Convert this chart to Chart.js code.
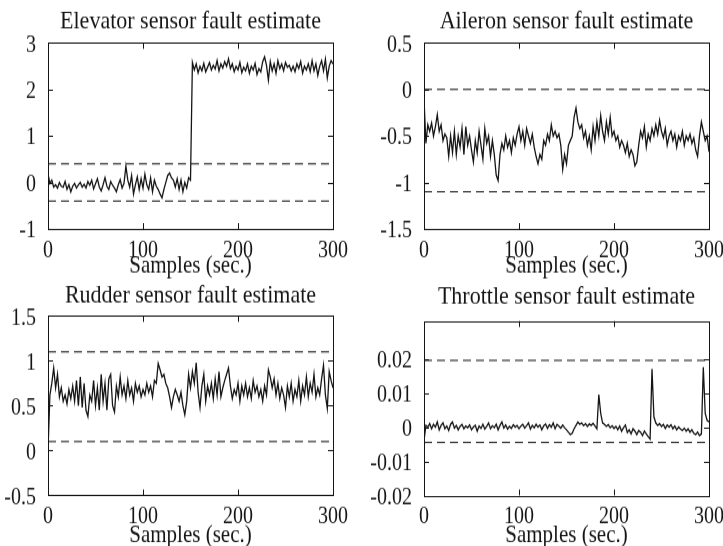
<!DOCTYPE html>
<html>
<head>
<meta charset="utf-8">
<script src="https://cdn.jsdelivr.net/npm/chart.js@4.4.0/dist/chart.umd.min.js"></script>
<style>
  html, body { margin: 0; padding: 0; background: #fff; overflow: hidden; }
  body { width: 723px; height: 546px; position: relative; }
  /* the source figure is stretched vertically, so each panel is drawn short and scaled up */
  .panel { position: absolute; transform: scaleY(1.18); transform-origin: 0 0; }
</style>
</head>
<body>
<div class="panel" style="left:0;top:0;width:362px;height:238px"><canvas id="elevatorChart"></canvas></div>
<div class="panel" style="left:362px;top:0;width:380px;height:238px"><canvas id="aileronChart"></canvas></div>
<div class="panel" style="left:0;top:273px;width:362px;height:235px"><canvas id="rudderChart"></canvas></div>
<div class="panel" style="left:362px;top:273px;width:380px;height:235px"><canvas id="throttleChart"></canvas></div>
<script>
// sample index (sec.), every 2nd sample
const samples = Array.from({ length: 151 }, (_, i) => i * 2);
const xTicks = [0, 100, 200, 300];

const elevatorFault = [
  0.18, -0.02, 0.05, -0.1, -0.05, -0.12, 0.0, -0.08, -0.1, 0.02,
  -0.15, -0.05, -0.2, -0.08, -0.02, -0.12, -0.05, 0.0, -0.1, -0.04,
  -0.12, 0.02, -0.06, 0.05, -0.14, -0.03, 0.08, -0.1, -0.18, -0.05,
  0.1, -0.08, -0.15, 0.02, -0.06, -0.12, -0.2, -0.05, 0.06, -0.12,
  -0.02, 0.35, 0.05, -0.1, 0.15, -0.25, -0.05, 0.12, -0.15, 0.08,
  -0.12, 0.18, -0.05, -0.15, 0.1, -0.2, 0.05, -0.08, -0.15, -0.25,
  -0.33, -0.15, 0.0, 0.15, 0.2, 0.1, 0.05, -0.1, 0.08, -0.15,
  0.05, -0.2, 0.0, -0.12, 0.1, 0.05,
  2.58, 2.42, 2.55, 2.36, 2.5, 2.4, 2.56, 2.38, 2.48, 2.58,
  2.42, 2.52, 2.44, 2.62, 2.4, 2.55, 2.46, 2.6, 2.5, 2.66,
  2.45, 2.55, 2.38, 2.5, 2.42, 2.58, 2.36, 2.48, 2.4, 2.55,
  2.35, 2.5, 2.42, 2.56, 2.32, 2.45, 2.38, 2.6, 2.7, 2.52,
  2.2, 2.6, 2.4, 2.55, 2.35, 2.62, 2.45, 2.55, 2.4, 2.58,
  2.48, 2.52, 2.4, 2.5, 2.38, 2.55, 2.45, 2.6, 2.35, 2.5,
  2.42, 2.55, 2.38, 2.62, 2.4, 2.55, 2.3, 2.5, 2.62, 2.4,
  2.65, 2.25, 2.5, 2.62, 2.55
];
const aileronFault = [
  -0.1, -0.58, -0.38, -0.45, -0.36, -0.5, -0.4, -0.27, -0.45, -0.38,
  -0.55, -0.48, -0.52, -0.72, -0.5, -0.68, -0.45, -0.7, -0.5, -0.62,
  -0.42, -0.7, -0.4, -0.6, -0.5, -0.65, -0.78, -0.55, -0.68, -0.45,
  -0.6, -0.75, -0.42, -0.58, -0.5, -0.72, -0.55, -0.7, -0.92, -0.98,
  -0.7, -0.58, -0.65, -0.5, -0.62, -0.55, -0.68, -0.52, -0.6, -0.48,
  -0.4, -0.55, -0.45, -0.6, -0.42, -0.5, -0.58, -0.48, -0.62, -0.72,
  -0.8, -0.7, -0.75, -0.55, -0.6, -0.48, -0.55, -0.38, -0.5, -0.45,
  -0.52, -0.48, -0.6, -0.86, -0.7, -0.8, -0.6, -0.55, -0.5, -0.3,
  -0.2, -0.35, -0.42, -0.38, -0.52, -0.45, -0.6, -0.5, -0.65, -0.4,
  -0.55, -0.35, -0.5, -0.28, -0.45, -0.55, -0.35, -0.48, -0.3, -0.5,
  -0.45, -0.55, -0.5, -0.62, -0.55, -0.6, -0.68, -0.58, -0.72, -0.65,
  -0.7, -0.82, -0.78, -0.6, -0.45, -0.52, -0.4, -0.62, -0.48, -0.55,
  -0.42, -0.5, -0.38, -0.48, -0.33, -0.45, -0.52, -0.42, -0.6, -0.5,
  -0.45, -0.55, -0.48, -0.62, -0.5, -0.55, -0.45, -0.6, -0.5, -0.55,
  -0.48, -0.58, -0.52, -0.65, -0.72, -0.5, -0.35, -0.45, -0.55, -0.5,
  -0.67
];
const rudderFault = [
  0.0, 0.62, 0.75, 0.92, 0.7, 0.85, 0.6, 0.7, 0.55, 0.62,
  0.52, 0.68, 0.58, 0.72, 0.55, 0.78, 0.5, 0.82, 0.48, 0.75,
  0.45, 0.38, 0.62, 0.55, 0.78, 0.5, 0.7, 0.45, 0.85, 0.55,
  0.75, 0.45, 0.8, 0.85, 0.5, 0.43, 0.72, 0.6, 0.82, 0.62,
  0.72, 0.58, 0.78, 0.62, 0.7, 0.55, 0.75, 0.65, 0.72, 0.6,
  0.68, 0.62, 0.75, 0.65, 0.72, 0.6, 0.78, 0.75, 0.97, 0.9,
  0.82, 0.85, 0.75, 0.7, 0.6, 0.48, 0.6, 0.68, 0.62, 0.55,
  0.65, 0.5, 0.4, 0.55, 0.85, 0.7, 0.88, 0.75, 0.98, 0.65,
  0.48, 0.72, 0.85, 0.55, 0.72, 0.62, 0.75, 0.58, 0.8, 0.62,
  0.88, 0.6, 0.7, 0.78, 0.85, 0.92, 0.72, 0.58, 0.68, 0.62,
  0.75, 0.55, 0.72, 0.62, 0.75, 0.6, 0.7, 0.58, 0.78, 0.65,
  0.72, 0.6, 0.68, 0.55, 0.72, 0.62, 0.9, 0.82, 0.7, 0.8,
  0.62, 0.75, 0.58, 0.7, 0.62, 0.48, 0.72, 0.6, 0.75, 0.55,
  0.68, 0.6, 0.78, 0.55, 0.72, 0.62, 0.82, 0.6, 0.75, 0.65,
  0.85, 0.6, 0.7, 0.62, 0.8, 0.95, 0.62, 0.47, 0.88, 0.78,
  0.7
];
const throttleFault = [
  -0.004, 0.0005, 0.0, 0.001, -0.0005, 0.0008, 0.0, 0.0015, -0.0008, 0.0005,
  0.0012, -0.0005, 0.0003, -0.001, 0.0008, 0.0015, -0.0003, 0.0005, -0.0008, 0.0002,
  0.0008, -0.0005, 0.0003, -0.0002, 0.0006, -0.0008, 0.0, 0.0005, -0.0012, 0.0003,
  -0.0004, 0.0008, -0.0006, 0.0002, 0.0012, -0.0005, 0.0004, -0.0002, 0.0008, -0.0008,
  0.0005, 0.0015, -0.0003, 0.0006, -0.0006, 0.0002, -0.0004, 0.0007, 0.0, 0.0005,
  -0.0005, 0.0003, 0.0008, -0.0003, 0.0004, 0.0012, -0.0006, 0.0005, -0.0002, 0.0008,
  0.0, 0.0006, -0.0008, 0.0004, 0.0009, -0.0004, 0.0007, 0.0, 0.0012, -0.0005,
  0.0008, 0.0003, -0.0003, 0.0006, -0.0002, -0.0008, -0.0015, -0.0022, -0.0018, -0.0005,
  0.0005, 0.0015, 0.0008, 0.0012, 0.0004, 0.001, 0.0002, 0.0009, 0.0005, 0.0011,
  0.0003, -0.0005, 0.0095, 0.004, 0.0012, 0.0008, 0.0002, 0.0007, -0.0002, 0.0004,
  -0.0004, 0.0002, -0.0008, 0.0003, -0.0012, -0.0002, 0.0006, -0.0016, -0.0008, -0.002,
  -0.0005, -0.0012, -0.0022, -0.001, -0.0015, -0.0025, -0.0012, -0.002, -0.0028, -0.0035,
  0.017, 0.003, 0.0012, 0.0005, 0.001, 0.0002, 0.0008, -0.0004, 0.0006, 0.0,
  0.0007, -0.0005, 0.0003, -0.0008, 0.0, -0.0006, -0.001, -0.0003, -0.0012, -0.0005,
  -0.0015, -0.0008, -0.0018, -0.0022, -0.0015, -0.0025, -0.002, 0.0175, 0.004, 0.002,
  0.0015
];

// detection thresholds (dashed lines)
const elevatorBounds = [0.4, -0.4];
const aileronBounds = [0.0, -1.1];
const rudderBounds = [1.1, 0.1];
const throttleBounds = [0.0195, -0.0045];

const elevatorTicks = [-1, 0, 1, 2, 3];
const elevatorLabels = ['-1', '0', '1', '2', '3'];
const aileronTicks = [-1.5, -1, -0.5, 0, 0.5];
const aileronLabels = ['-1.5', '-1', '-0.5', '0', '0.5'];
const rudderTicks = [-0.5, 0, 0.5, 1, 1.5];
const rudderLabels = ['-0.5', '0', '0.5', '1', '1.5'];
const throttleTicks = [-0.02, -0.01, 0, 0.01, 0.02];
const throttleLabels = ['-0.02', '-0.01', '0', '0.01', '0.02'];

const serif = 'Liberation Serif, Times New Roman, serif';
const ink = '#151515';

// MATLAB style box with inward ticks on all four sides
const boxTicks = {
  id: 'boxTicks',
  afterDatasetsDraw(chart) {
    const { ctx, chartArea: a, scales: { x, y } } = chart;
    const len = 5;
    ctx.save();
    ctx.strokeStyle = ink;
    ctx.lineWidth = 1;
    ctx.beginPath();
    x.ticks.forEach(t => {
      const px = Math.round(x.getPixelForValue(t.value)) + 0.5;
      if (px < a.left + 2 || px > a.right - 2) return;
      ctx.moveTo(px, a.bottom); ctx.lineTo(px, a.bottom - len);
      ctx.moveTo(px, a.top); ctx.lineTo(px, a.top + len);
    });
    y.ticks.forEach(t => {
      const py = Math.round(y.getPixelForValue(t.value)) + 0.5;
      if (py < a.top + 2 || py > a.bottom - 2) return;
      ctx.moveTo(a.left, py); ctx.lineTo(a.left + len, py);
      ctx.moveTo(a.right, py); ctx.lineTo(a.right - len, py);
    });
    ctx.stroke();
    ctx.strokeRect(Math.round(a.left) + 0.5, Math.round(a.top) + 0.5,
      Math.round(a.right - a.left), Math.round(a.bottom - a.top));
    ctx.restore();
  }
};

function dashed(value) {
  return {
    data: [{ x: 0, y: value }, { x: 300, y: value }],
    borderColor: '#111',
    borderWidth: 1,
    borderDash: [8, 5],
    pointRadius: 0
  };
}

function makeChart(id, cfg) {
  const ctx = document.getElementById(id).getContext('2d');
  return new Chart(ctx, {
    type: 'line',
    data: {
      labels: samples,
      datasets: [
        { data: cfg.values, borderColor: ink, borderWidth: 1.3, pointRadius: 0, tension: 0 },
        dashed(cfg.bounds[0]),
        dashed(cfg.bounds[1])
      ]
    },
    options: {
      responsive: true,
      maintainAspectRatio: false,
      animation: false,
      events: [],
      layout: { padding: { left: 0, right: cfg.padRight, top: 0, bottom: 0 } },
      plugins: {
        legend: { display: false },
        tooltip: { enabled: false },
        title: {
          display: true,
          text: cfg.title,
          fullSize: false,
          color: ink,
          font: { family: serif, size: 22, weight: 'normal', lineHeight: 1.2 },
          padding: cfg.titlePad
        }
      },
      scales: {
        x: {
          type: 'linear',
          min: 0,
          max: 300,
          grid: { display: false },
          border: { display: false },
          afterBuildTicks: s => { s.ticks = xTicks.map(v => ({ value: v })); },
          afterFit: s => { s.height = cfg.xHeight; },
          ticks: {
            color: ink,
            padding: cfg.xTickPad,
            maxRotation: 0,
            font: { family: serif, size: 20, lineHeight: 1 },
            callback: v => String(v)
          },
          title: {
            display: true,
            text: 'Samples (sec.)',
            color: ink,
            padding: 0,
            font: { family: serif, size: 21, lineHeight: 1.2 }
          }
        },
        y: {
          min: cfg.yMin,
          max: cfg.yMax,
          grid: { display: false },
          border: { display: false },
          afterBuildTicks: s => { s.ticks = cfg.yTicks.map(v => ({ value: v })); },
          afterFit: s => { s.width = cfg.yWidth; },
          ticks: {
            color: ink,
            padding: 4,
            labelOffset: 2,
            font: { family: serif, size: 20, lineHeight: 1 },
            callback: (v, i) => cfg.yLabels[i]
          }
        }
      }
    },
    plugins: [boxTicks]
  });
}

makeChart('elevatorChart', {
  title: 'Elevator sensor fault estimate',
  values: elevatorFault, bounds: elevatorBounds,
  yMin: -1, yMax: 3, yTicks: elevatorTicks, yLabels: elevatorLabels,
  yWidth: 48, padRight: 29, xHeight: 44, xTickPad: 0.6,
  titlePad: { top: 4.6, bottom: 5.4 }
});
makeChart('aileronChart', {
  title: 'Aileron sensor fault estimate',
  values: aileronFault, bounds: aileronBounds,
  yMin: -1.5, yMax: 0.5, yTicks: aileronTicks, yLabels: aileronLabels,
  yWidth: 62, padRight: 33, xHeight: 44, xTickPad: 0.6,
  titlePad: { top: 4.6, bottom: 5.4 }
});
makeChart('rudderChart', {
  title: 'Rudder sensor fault estimate',
  values: rudderFault, bounds: rudderBounds,
  yMin: -0.5, yMax: 1.5, yTicks: rudderTicks, yLabels: rudderLabels,
  yWidth: 48, padRight: 29, xHeight: 46.5, xTickPad: 0.2,
  titlePad: { top: 5.9, bottom: 4.1 }
});
makeChart('throttleChart', {
  title: 'Throttle sensor fault estimate',
  values: throttleFault, bounds: throttleBounds,
  yMin: -0.02, yMax: 0.031, yTicks: throttleTicks, yLabels: throttleLabels,
  yWidth: 62, padRight: 33, xHeight: 46.5, xTickPad: 0.2,
  titlePad: { top: 7.3, bottom: 7.0 }
});
</script>
</body>
</html>
